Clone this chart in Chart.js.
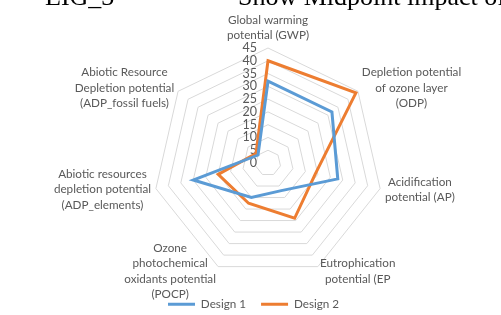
<!DOCTYPE html>
<html>
<head>
<meta charset="utf-8">
<script src="https://cdn.jsdelivr.net/npm/chart.js@4.4.0/dist/chart.umd.min.js"></script>
<style>
html, body { margin: 0; padding: 0; background: #fff; }
#wrap { position: relative; width: 501px; height: 315px; overflow: hidden; }
.cut { position: absolute; top: -16px; font-family: "Liberation Serif", serif; font-size: 26px; line-height: 26px; color: #000; white-space: nowrap; }
</style>
</head>
<body>
<div id="wrap">
<canvas id="chart" width="501" height="315"></canvas>
<div class="cut" style="left:45px">EIG_3</div>
<div class="cut" style="left:238px">Show Midpoint impact of</div>
</div>
<script>
// categories (one array of lines per axis)
let categories = [
    ["Global warming", "potential (GWP)"],
    ["Depletion potential", "of ozone layer", "(ODP)"],
    ["Acidification", "potential (AP)"],
    ["Eutrophication", "potential (EP"],
    ["Ozone", "photochemical", "oxidants potential", "(POCP)"],
    ["Abiotic resources", "depletion potential", "(ADP_elements)"],
    ["Abiotic Resource", "Depletion potential", "(ADP_fossil fuels)"]
]
let design1 = [32, 32, 28, 12, 15, 30, 5]
let design2 = [40, 44, 19, 24, 17.5, 20, 6]
let tickMin = 0
let tickMax = 45
let tickStep = 5

let grey = "#595959"

// Excel style labels: text blocks centred, placed outside the outer ring
let excelLabels = {
    id: "excelLabels",
    beforeDatasetsDraw(chart) {
        let scale = chart.scales.r
        let ctx = chart.ctx
        ctx.save()
        ctx.fillStyle = grey
        ctx.font = "12.5px Lato"
        ctx.textAlign = "right"
        ctx.textBaseline = "middle"
        for (let t of scale.ticks) {
            let d = scale.getDistanceFromCenterForValue(t.value)
            ctx.fillText(String(t.value), scale.xCenter - 11, scale.yCenter - d)
        }
        ctx.restore()
    },
    afterDraw(chart) {
        let scale = chart.scales.r
        let ctx = chart.ctx
        let lh = 15.5
        ctx.save()
        ctx.fillStyle = grey
        ctx.font = "11.7px Lato"
        ctx.textAlign = "center"
        ctx.textBaseline = "middle"
        categories.forEach((lines, i) => {
            let p = scale.getPointPosition(i, scale.drawingArea + 5)
            let w = Math.max(...lines.map(l => ctx.measureText(l).width))
            let h = lines.length * lh
            let s = Math.sin(scale.getIndexAngle(i))
            let cx, top
            if (Math.abs(s) < 0.05) {
                cx = p.x
                top = p.y - h
            } else if (s > 0) {
                cx = p.x + w / 2
                top = p.y - h / 2
            } else {
                cx = p.x - w / 2
                top = p.y - h / 2
            }
            lines.forEach((l, k) => ctx.fillText(l, cx, top + lh * (k + 0.5)))
        })
        ctx.restore()
    }
}

let chart = new Chart("chart", {
    type: "radar",
    data: {
        labels: categories,
        datasets: [
            {
                label: "Design 1",
                data: design1,
                borderColor: "#5B9BD5",
                backgroundColor: "#5B9BD5",
                borderWidth: 3,
                pointRadius: 0,
                fill: false
            },
            {
                label: "Design 2",
                data: design2,
                borderColor: "#ED7D31",
                backgroundColor: "#ED7D31",
                borderWidth: 3,
                pointRadius: 0,
                fill: false
            }
        ]
    },
    options: {
        responsive: false,
        animation: false,
        layout: {
            padding: { left: 153, right: 118, top: 43, bottom: -5 }
        },
        scales: {
            r: {
                min: tickMin,
                max: tickMax,
                ticks: { stepSize: tickStep, display: false },
                pointLabels: { display: false },
                angleLines: { display: false },
                grid: { color: "#d9d9d9", lineWidth: 1 }
            }
        },
        plugins: {
            legend: {
                position: "bottom",
                align: "start",
                labels: {
                    boxWidth: 27,
                    boxHeight: 3,
                    padding: 15,
                    color: grey,
                    font: { family: "Lato", size: 11.7 },
                    generateLabels(c) {
                        let items = Chart.defaults.plugins.legend.labels.generateLabels(c)
                        for (let it of items) {
                            it.lineWidth = 0
                        }
                        return items
                    }
                }
            },
            tooltip: { enabled: false }
        }
    },
    plugins: [excelLabels]
})
</script>
</body>
</html>
